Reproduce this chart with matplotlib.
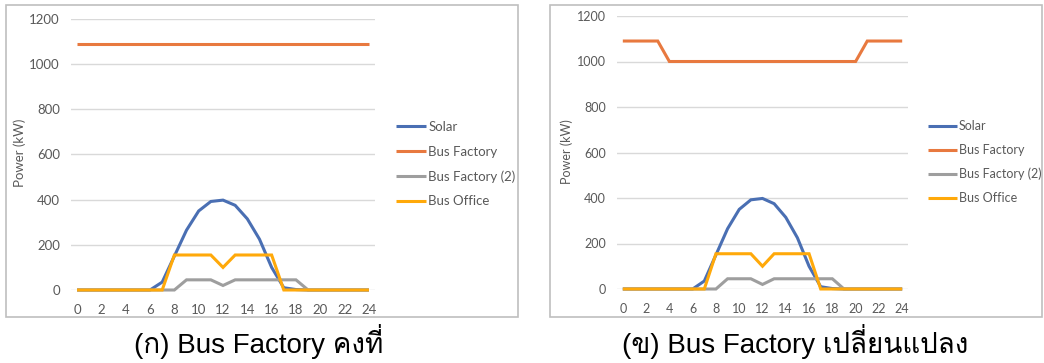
import matplotlib
matplotlib.use("Agg")
import matplotlib.pyplot as plt
from matplotlib import font_manager
from matplotlib.ft2font import FT2Font
from matplotlib.patches import Rectangle

# ---------------- data ----------------
hours = list(range(25))
solar = [0, 0, 0, 0, 0, 0, 0, 35, 150, 265, 350, 392, 398, 375, 315, 225, 100, 10, 2, 0, 0, 0, 0, 0, 0]
bus_factory_a = [1090] * 25
bus_factory_b = [1090, 1090, 1090, 1090, 1000, 1000, 1000, 1000, 1000, 1000, 1000, 1000, 1000,
                 1000, 1000, 1000, 1000, 1000, 1000, 1000, 1000, 1090, 1090, 1090, 1090]
bus_factory2 = [0, 0, 0, 0, 0, 0, 0, 0, 0, 45, 45, 45, 20, 45, 45, 45, 45, 45, 45, 0, 0, 0, 0, 0, 0]
bus_office = [0, 0, 0, 0, 0, 0, 0, 0, 155, 155, 155, 155, 100, 155, 155, 155, 155, 0, 0, 0, 0, 0, 0, 0, 0]
series_names = ["Solar", "Bus Factory", "Bus Factory (2)", "Bus Office"]
xticks = list(range(0, 25, 2))
yticks = list(range(0, 1201, 200))
captions = ["(ก) Bus Factory คงที่", "(ข) Bus Factory เปลี่ยนแปลง"]
ylabel = "Power (kW)"

colors = ["#4A6FB3", "#E8793F", "#9E9E9E", "#FFA90A"]

# find a font with Thai glyphs
thai_font = None
for fe in font_manager.fontManager.ttflist:
    try:
        f = FT2Font(fe.fname)
        cm = f.get_charmap()
        if 0x0E04 in cm and 0x0E35 in cm:
            thai_font = fe.name
            if "Sans" in fe.name or "Loma" in fe.name or "Garuda" in fe.name:
                break
    except Exception:
        pass
cap_family = ["Liberation Sans"] + ([thai_font] if thai_font else []) + ["DejaVu Sans"]

W, H = 1044, 363
fig = plt.figure(figsize=(W / 100, H / 100), dpi=100)
fig.patch.set_facecolor("white")

def px_axes(x0, x1, ytop, ybot):
    return fig.add_axes([x0 / W, (H - ybot) / H, (x1 - x0) / W, (ybot - ytop) / H])

def style(ax, fs):
    ax.set_xlim(-0.5, 24.5)
    ax.set_ylim(0, 1200)
    ax.set_xticks(xticks)
    ax.set_yticks(yticks)
    ax.tick_params(length=0, labelsize=fs, labelcolor="#595959")
    ax.tick_params(axis="x", pad=10)
    ax.tick_params(axis="y", pad=8)
    for lab in ax.get_xticklabels() + ax.get_yticklabels():
        lab.set_family("Lato")
    for s in ax.spines.values():
        s.set_visible(False)
    ax.grid(axis="y", color="#D9D9D9", linewidth=1.0)
    ax.set_axisbelow(True)

panels = [
    dict(box=(6, 5, 518, 317), ax=(71, 375, 19, 290), fact=bus_factory_a,
         leg=(396, 121), ylab=(20, 153), cap=(259, 353), fs=9.5, ls=0.95),
    dict(box=(550, 5, 1042, 317), ax=(617, 908, 16, 289), fact=bus_factory_b,
         leg=(928, 120), ylab=(567, 152), cap=(795, 353), fs=9, ls=0.95),
]

for i, p in enumerate(panels):
    bx0, by0, bx1, by1 = p["box"]
    fig.patches.append(Rectangle((bx0 / W, (H - by1) / H), (bx1 - bx0) / W, (by1 - by0) / H,
                                 transform=fig.transFigure, fill=False,
                                 edgecolor="#BFBFBF", linewidth=1.2))
    ax = px_axes(*p["ax"])
    style(ax, p["fs"])
    data = [solar, p["fact"], bus_factory2, bus_office]
    handles = []
    for name, d, c in zip(series_names, data, colors):
        h, = ax.plot(hours, d, color=c, linewidth=2.2, label=name, solid_capstyle="butt",
                     solid_joinstyle="miter", clip_on=False)
        handles.append(h)
    lx, ly = p["leg"]
    fig.legend(handles=handles, loc="upper left", bbox_to_anchor=(lx / W, 1 - ly / H),
               frameon=False, handlelength=2.3, handletextpad=0.15,
               labelspacing=p["ls"], borderaxespad=0, borderpad=0,
               labelcolor="#595959", prop={"family": "Lato", "size": p["fs"]})
    yx, yy = p["ylab"]
    fig.text(yx / W, 1 - yy / H, ylabel, rotation=90, ha="center", va="center",
             fontsize=p["fs"], color="#595959", family="Lato")
    cx, cy = p["cap"]
    fig.text(cx / W, 1 - cy / H, captions[i], ha="center", va="baseline",
             fontsize=20, color="black", family=cap_family)

fig.savefig("out.png", dpi=100, facecolor="white")
